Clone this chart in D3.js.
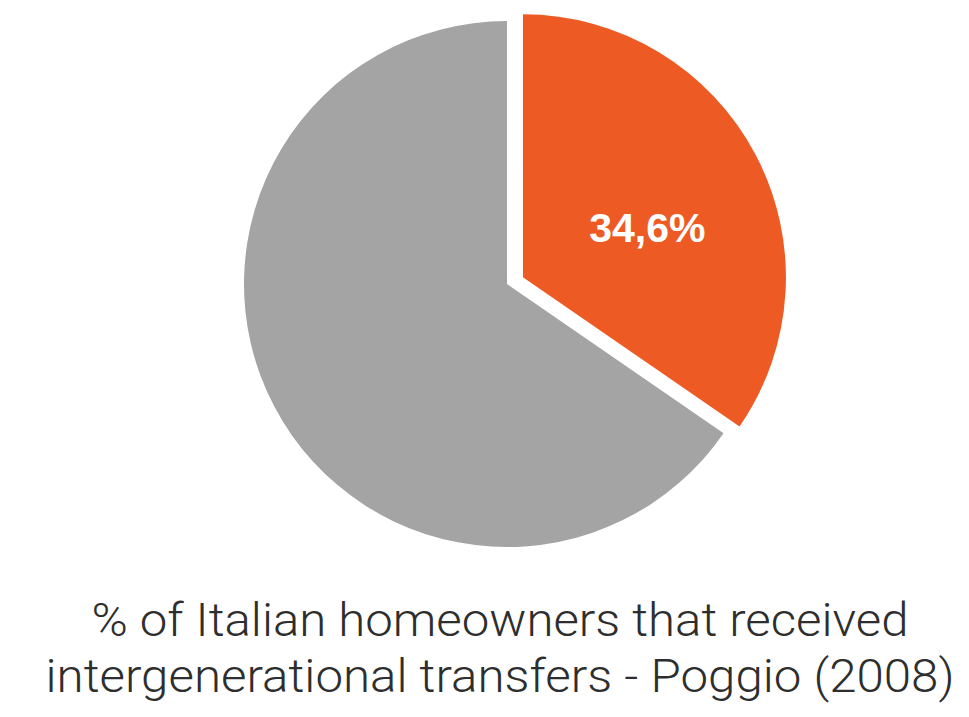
<!DOCTYPE html>
<html>
<head>
<meta charset="utf-8">
<script src="https://cdn.jsdelivr.net/npm/d3@7"></script>
<style>
  html, body { margin: 0; padding: 0; background: #ffffff; }
  svg { display: block; }
</style>
</head>
<body>
<svg id="chart" width="969" height="717"></svg>
<script>
// Share of Italian homeowners who received intergenerational transfers
const categories = ["Received transfers", "No transfers"];
const values = [34.6, 65.4];
const valueLabels = ["34,6%", ""];
const captionLines = [
  "% of Italian homeowners that received",
  "intergenerational transfers - Poggio (2008)"
];

const colors = d3.scaleOrdinal()
  .domain(categories)
  .range(["#ee5a24", "#a4a4a4"]);

const svg = d3.select("#chart");
const cx = 507, cy = 284, radius = 263, explode = 18;

const pie = d3.pie().sort(null).value(d => d.value);
const arcs = pie(categories.map((c, i) => ({ category: c, value: values[i], label: valueLabels[i] })));
const arc = d3.arc().innerRadius(0).outerRadius(radius);

const g = svg.append("g").attr("transform", `translate(${cx},${cy})`);

// The highlighted slice is pulled out along its middle angle
const slices = g.selectAll("g.slice")
  .data(arcs)
  .join("g")
  .attr("class", "slice")
  .attr("transform", (d, i) => {
    if (i !== 0) return null;
    const mid = (d.startAngle + d.endAngle) / 2;
    return `translate(${Math.sin(mid) * explode},${-Math.cos(mid) * explode * 0.8})`;
  });

slices.append("path")
  .attr("d", arc)
  .attr("fill", d => colors(d.data.category));

slices.filter(d => d.data.label)
  .append("text")
  .attr("x", d => arc.centroid(d)[0] + 8)
  .attr("y", d => arc.centroid(d)[1] + 26)
  .attr("text-anchor", "middle")
  .attr("fill", "#ffffff")
  .attr("font-family", "'Liberation Sans', Arial, Helvetica, sans-serif")
  .attr("font-weight", "bold")
  .attr("font-size", 41)
  .text(d => d.data.label);

// Caption under the pie
const captionWidths = [817, 909];
svg.selectAll("text.caption")
  .data(captionLines)
  .join("text")
  .attr("class", "caption")
  .attr("x", 500)
  .attr("y", (d, i) => 636 + i * 56)
  .attr("text-anchor", "middle")
  .attr("fill", "#2e2e2e")
  .attr("font-family", "Roboto, 'Liberation Sans', sans-serif")
  .attr("font-weight", 300)
  .attr("font-size", 46)
  .attr("textLength", (d, i) => captionWidths[i])
  .attr("lengthAdjust", "spacingAndGlyphs")
  .text(d => d);
</script>
</body>
</html>
